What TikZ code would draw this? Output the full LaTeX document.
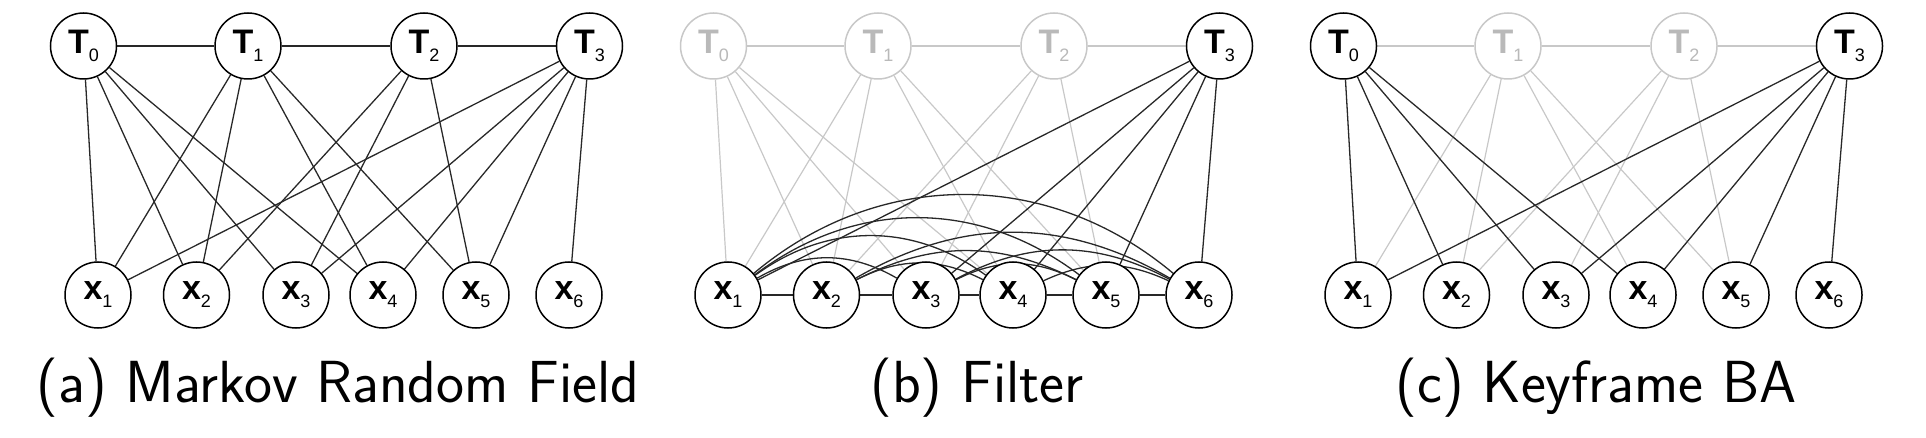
\documentclass[tikz,border=0pt]{standalone}
\usepackage{fontspec}
\newfontfamily\labfont{Liberation Sans}
\usetikzlibrary{backgrounds}
\definecolor{lt}{RGB}{200,200,200}
\definecolor{lttext}{RGB}{185,185,185}
\definecolor{dk}{RGB}{40,40,40}
\tikzset{
  dknode/.style={circle, draw=black, line width=0.75pt, fill=white, minimum size=33pt,
    inner sep=0pt, text=black, font=\labfont\fontsize{17}{17}\selectfont},
  ltnode/.style={dknode, draw=lt, text=lttext},
  dkedge/.style={draw=dk, line width=0.65pt},
  ltedge/.style={draw=lt, line width=0.6pt},
  captext/.style={anchor=base, inner sep=0pt, font=\sffamily\fontsize{29.7}{31}\selectfont}
}
\newcommand\lab[2]{\textbf{#1}\raisebox{-4pt}{\fontsize{9}{9}\selectfont #2}}
% #1 prefix, #2 x shift, #3..#6 styles of T0..T3
\newcommand\graphpanel[6]{%
\begin{scope}[xshift=#2]
  \node[#3node] (#1T0) at (83.5,-46) {\lab{T}{0}};
  \node[#4node] (#1T1) at (248,-46) {\lab{T}{1}};
  \node[#5node] (#1T2) at (424,-46) {\lab{T}{2}};
  \node[#6node] (#1T3) at (589.5,-46) {\lab{T}{3}};
  \node[dknode] (#1X1) at (98,-295) {\lab{x}{1}};
  \node[dknode] (#1X2) at (196.5,-295) {\lab{x}{2}};
  \node[dknode] (#1X3) at (296,-295) {\lab{x}{3}};
  \node[dknode] (#1X4) at (383,-295) {\lab{x}{4}};
  \node[dknode] (#1X5) at (476,-295) {\lab{x}{5}};
  \node[dknode] (#1X6) at (569,-295) {\lab{x}{6}};
  \begin{scope}[on background layer]
    \draw[#4edge] (#1T0) -- (#1T1);
    \draw[#4edge] (#1T1) -- (#1T2);
    \draw[#5edge] (#1T2) -- (#1T3);
    \foreach \x in {1,2,4,5} \draw[#4edge] (#1T1) -- (#1X\x);
    \foreach \x in {2,3,5} \draw[#5edge] (#1T2) -- (#1X\x);
    \foreach \x in {1,2,3,4} \draw[#3edge] (#1T0) -- (#1X\x);
    \foreach \x in {1,3,4,5,6} \draw[#6edge] (#1T3) -- (#1X\x);
  \end{scope}
\end{scope}}
\begin{document}
\begin{tikzpicture}[x=0.5pt, y=0.5pt]
  \useasboundingbox (0,0) rectangle (1926,-438);
  \graphpanel{a}{0pt}{dk}{dk}{dk}{dk}
  \graphpanel{b}{315pt}{lt}{lt}{lt}{dk}
  \graphpanel{c}{630pt}{dk}{lt}{lt}{dk}
  \begin{scope}[on background layer]
    \draw[dkedge] (bX1) -- (bX2);
    \draw[dkedge] (bX2) -- (bX3);
    \draw[dkedge] (bX3) -- (bX4);
    \draw[dkedge] (bX4) -- (bX5);
    \draw[dkedge] (bX5) -- (bX6);
    \draw[dkedge] (bX1) to[bend left=40] (bX6);
    \draw[dkedge] (bX1) to[bend left=37] (bX5);
    \draw[dkedge] (bX1) to[bend left=36] (bX4);
    \draw[dkedge] (bX1) to[bend left=30] (bX3);
    \draw[dkedge] (bX2) to[bend left=30] (bX6);
    \draw[dkedge] (bX2) to[bend left=27] (bX5);
    \draw[dkedge] (bX2) to[bend left=27] (bX4);
    \draw[dkedge] (bX3) to[bend left=28] (bX6);
    \draw[dkedge] (bX3) to[bend left=27] (bX5);
    \draw[dkedge] (bX4) to[bend left=25] (bX6);
  \end{scope}
  \node[captext] (capa) at (338,-402) {(a) Markov Random Field};
  \node[captext] (capb) at (977,-402) {(b) Filter};
  \node[captext] (capc) at (1596,-402) {(c) Keyframe BA};
\end{tikzpicture}
\end{document}
